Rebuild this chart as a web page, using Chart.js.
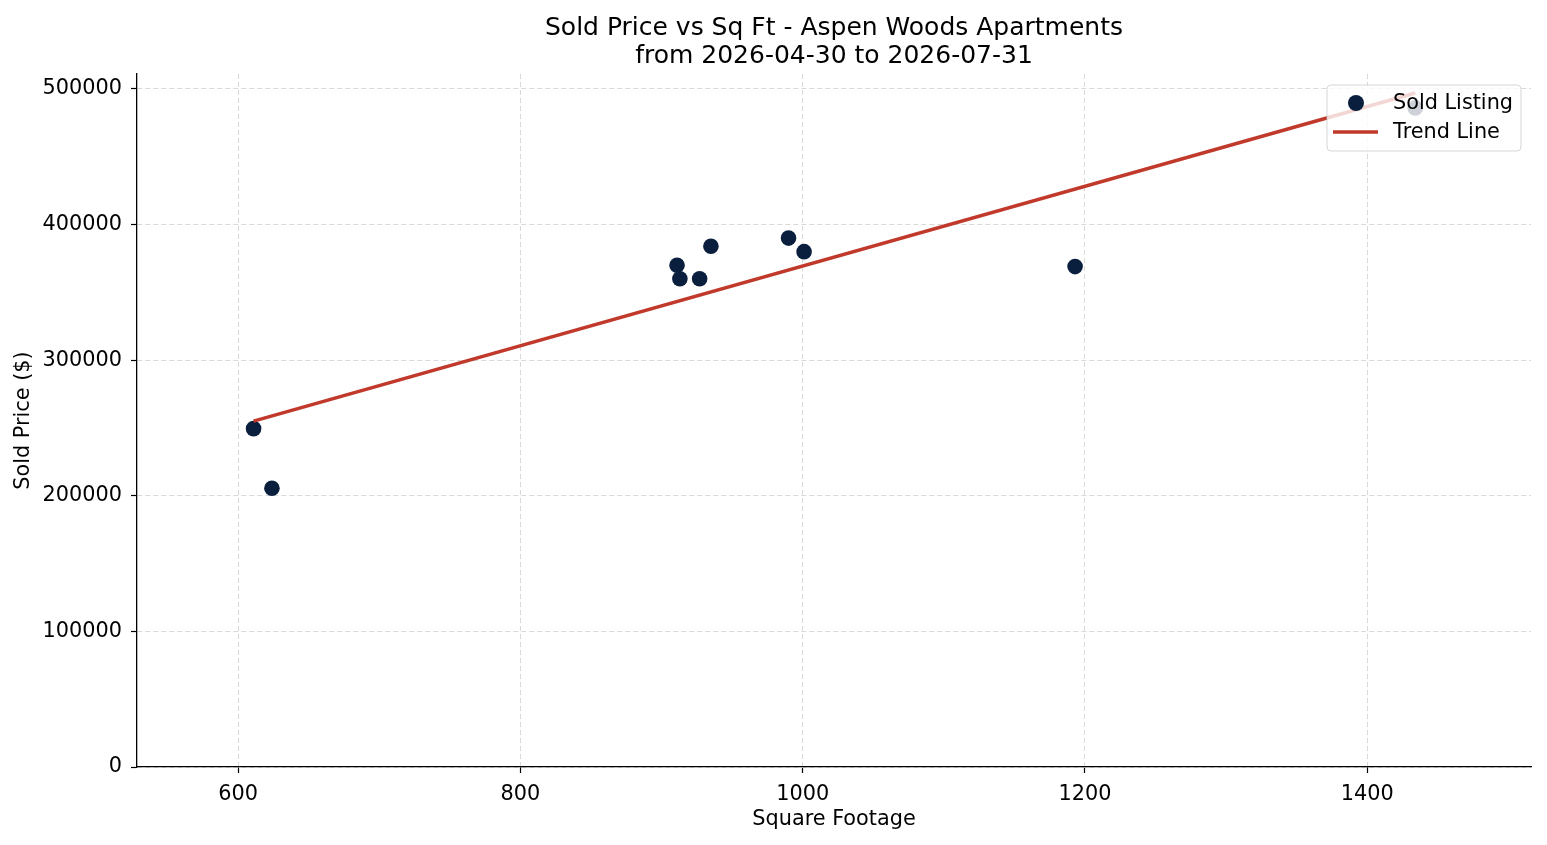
<!DOCTYPE html>
<html>
<head>
<meta charset="utf-8">
<script src="https://cdn.jsdelivr.net/npm/chart.js@4/dist/chart.umd.min.js"></script>
<style>
  html, body { margin: 0; padding: 0; background: #fff; }
  #wrap { width: 1547px; height: 845px; position: relative; }
</style>
</head>
<body>
<div id="wrap"><canvas id="chart"></canvas></div>
<script>
// sold listings: square footage and sold price
var sqFt = [611, 624, 911, 913, 927, 935, 990, 1001, 1193, 1434];
var soldPrice = [249500, 205500, 370000, 360000, 360000, 384000, 390000, 380000, 369000, 486000];

// trend line end points
var trendX = [611, 1434];
var trendY = [255000, 497000];

var xTicks = [600, 800, 1000, 1200, 1400];
var yTicks = [0, 100000, 200000, 300000, 400000, 500000];

var titleLines = ["Sold Price vs Sq Ft - Aspen Woods Apartments", "from 2026-04-30 to 2026-07-31"];
var seriesNames = ["Sold Listing", "Trend Line"];

var navy = "#0a1f3d";
var red = "#c0392b";
var FONT = "'DejaVu Sans', 'Liberation Sans', sans-serif";

var scatterPts = sqFt.map((x, i) => ({ x: x, y: soldPrice[i] }));
var trendPts = trendX.map((x, i) => ({ x: x, y: trendY[i] }));

// legend drawn on top of the points, like matplotlib's framed legend
const boxLegend = {
    id: "boxLegend",
    afterDraw(chart) {
        const ctx = chart.ctx;
        const area = chart.chartArea;
        const w = 194, h = 66;
        const x0 = area.right - 10 - w;
        const y0 = area.top + 11;
        ctx.save();
        ctx.beginPath();
        ctx.roundRect(x0, y0, w, h, 4);
        ctx.fillStyle = "rgba(255,255,255,0.8)";
        ctx.fill();
        ctx.strokeStyle = "rgba(204,204,204,0.8)";
        ctx.lineWidth = 1;
        ctx.stroke();

        const ds = chart.data.datasets;
        // marker for the scatter
        ctx.beginPath();
        ctx.arc(x0 + 29, y0 + 18, 8, 0, Math.PI * 2);
        ctx.fillStyle = ds[0].backgroundColor;
        ctx.fill();
        // line for the trend
        ctx.beginPath();
        ctx.moveTo(x0 + 6, y0 + 47);
        ctx.lineTo(x0 + 51, y0 + 47);
        ctx.strokeStyle = ds[1].borderColor;
        ctx.lineWidth = 3.5;
        ctx.stroke();

        ctx.fillStyle = "#000";
        ctx.font = "20.8px " + FONT;
        ctx.textBaseline = "middle";
        ctx.textAlign = "left";
        ctx.fillText(ds[0].label, x0 + 66, y0 + 19);
        ctx.fillText(ds[1].label, x0 + 66, y0 + 48);
        ctx.restore();
    }
};

const gridDash = [5, 3];

new Chart("chart", {
    type: "scatter",
    data: {
        datasets: [
            {
                label: seriesNames[0],
                data: scatterPts,
                backgroundColor: navy,
                borderWidth: 0,
                pointRadius: 7.8,
                pointHoverRadius: 7.8,
                order: 1
            },
            {
                type: "line",
                label: seriesNames[1],
                data: trendPts,
                borderColor: red,
                backgroundColor: red,
                borderWidth: 3.5,
                pointRadius: 0,
                fill: false,
                order: 0
            }
        ]
    },
    options: {
        responsive: true,
        maintainAspectRatio: false,
        animation: false,
        events: [],
        layout: { padding: { left: 0, right: 16, top: 0, bottom: 0 } },
        plugins: {
            legend: { display: false },
            tooltip: { enabled: false },
            title: {
                display: true,
                fullSize: false,
                text: titleLines,
                color: "#000",
                font: { family: FONT, size: 25, weight: "normal", lineHeight: "28px" },
                padding: { top: 14, bottom: 4 }
            }
        },
        scales: {
            x: {
                type: "linear",
                min: 528.4,
                max: 1516,
                afterBuildTicks: (scale) => { scale.ticks = xTicks.map(v => ({ value: v })); },
                afterFit: (scale) => { scale.height = 78; },
                grid: {
                    color: "#d9d9d9",
                    lineWidth: 1,
                    drawTicks: true,
                    tickLength: 6,
                    tickColor: "#000",
                    tickWidth: 1.2
                },
                border: { display: true, color: "#000", width: 1.3, dash: gridDash },
                ticks: {
                    color: "#000",
                    padding: 9,
                    maxRotation: 0,
                    font: { family: FONT, size: 20.8 },
                    callback: (v) => String(v)
                },
                title: {
                    display: true,
                    text: "Square Footage",
                    color: "#000",
                    font: { family: FONT, size: 20.8 },
                    padding: { top: 0, bottom: 12.5 }
                }
            },
            y: {
                type: "linear",
                min: 0,
                max: 511000,
                afterBuildTicks: (scale) => { scale.ticks = yTicks.map(v => ({ value: v })); },
                afterFit: (scale) => { scale.width = 137; },
                grid: {
                    color: "#d9d9d9",
                    lineWidth: 1,
                    drawTicks: true,
                    tickLength: 6,
                    tickColor: "#000",
                    tickWidth: 1.2
                },
                border: { display: true, color: "#000", width: 1.3, dash: gridDash },
                ticks: {
                    color: "#000",
                    padding: 9,
                    font: { family: FONT, size: 20.8 },
                    callback: (v) => String(v)
                },
                title: {
                    display: true,
                    text: "Sold Price ($)",
                    color: "#000",
                    font: { family: FONT, size: 20.8 },
                    padding: { top: 11, bottom: 0 }
                }
            }
        }
    },
    plugins: [boxLegend]
});
</script>
</body>
</html>
